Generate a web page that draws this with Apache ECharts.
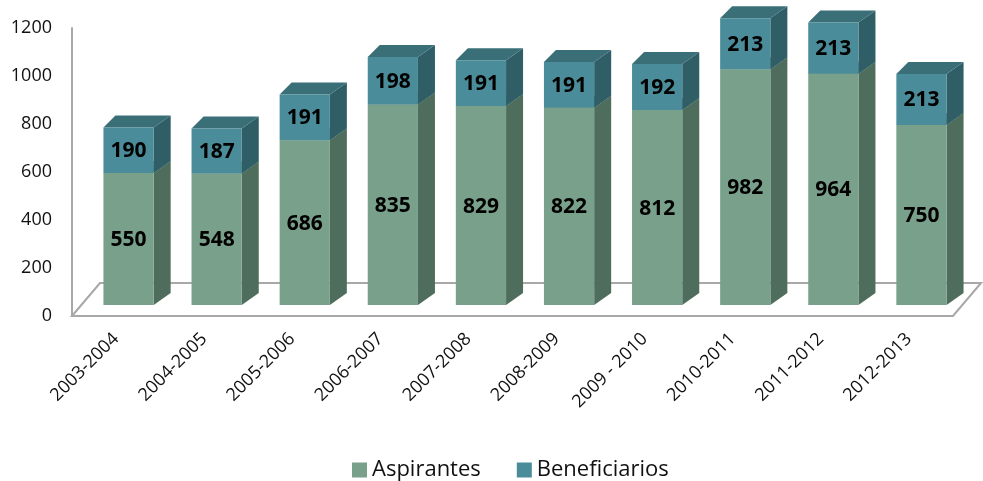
<!DOCTYPE html>
<html>
<head>
<meta charset="utf-8">
<script src="https://cdn.jsdelivr.net/npm/echarts@6/dist/echarts.min.js"></script>
<style>
html,body{margin:0;padding:0;background:#fff;}
#chart{width:983px;height:481px;}
</style>
</head>
<body>
<div id="chart"></div>
<script>
var categories = ['2003-2004','2004-2005','2005-2006','2006-2007','2007-2008','2008-2009','2009 - 2010','2010-2011','2011-2012','2012-2013'];
var aspirantes = [550, 548, 686, 835, 829, 822, 812, 982, 964, 750];
var beneficiarios = [190, 187, 191, 198, 191, 191, 192, 213, 213, 213];
var yTicks = [0, 200, 400, 600, 800, 1000, 1200];

var FONT = '"Open Sans", sans-serif';
var SX = 12.5, SY = -11;        // bar placement inside the floor depth
var DXL = 12, DXR = 17, DY = -12; // bar depth
var FDX = 28, FDY = -33;        // floor depth

var aspData = aspirantes.map(function (v, i) { return [i, 0, v, v]; });
var benData = beneficiarios.map(function (v, i) { return [i, aspirantes[i], aspirantes[i] + v, v]; });

function makeRender(front, top, side) {
  return function (params, api) {
    var idx = api.value(0);
    var p0 = api.coord([idx, api.value(1)]);
    var p1 = api.coord([idx, api.value(2)]);
    var bw = api.size([1, 0])[0] * 0.57;
    var xl = p0[0] - bw / 2 + SX, xr = p0[0] + bw / 2 + SX;
    var yb = p0[1] + SY, yt = p1[1] + SY;
    return {
      type: 'group',
      children: [
        { type: 'polygon', shape: { points: [[xr, yb], [xr + DXR, yb + DY], [xr + DXR, yt + DY], [xr, yt]] }, style: { fill: side } },
        { type: 'polygon', shape: { points: [[xl, yt], [xl + DXL, yt + DY], [xr + DXR, yt + DY], [xr, yt]] }, style: { fill: top } },
        { type: 'rect', shape: { x: xl, y: yt, width: xr - xl, height: yb - yt }, style: { fill: front } },
        { type: 'text', style: { text: String(api.value(3)), x: (xl + xr) / 2, y: (yt + yb) / 2 + 1, align: 'center', verticalAlign: 'middle', font: 'bold 21px ' + FONT, fill: '#000' } }
      ]
    };
  };
}

var chart = echarts.init(document.getElementById('chart'));
chart.setOption({
  animation: false,
  backgroundColor: '#fff',
  grid: { left: 72, right: 30, top: 28, bottom: 165 },
  legend: {
    data: ['Aspirantes', 'Beneficiarios'],
    top: 454,
    left: 347,
    icon: 'rect',
    itemWidth: 15,
    itemHeight: 15,
    itemGap: 36,
    textStyle: { fontFamily: FONT, fontSize: 22, color: '#111' }
  },
  xAxis: {
    type: 'category',
    data: categories,
    axisLine: { show: false },
    axisTick: { show: false },
    axisLabel: { interval: 0, rotate: 45, margin: 20, fontFamily: FONT, fontSize: 18, color: '#111' }
  },
  yAxis: {
    type: 'value',
    min: 0, max: 1200, interval: 200,
    splitLine: { show: false },
    axisLine: { show: true, lineStyle: { color: '#a8a8a8', width: 2 } },
    axisTick: { show: false },
    axisLabel: { margin: 20, fontFamily: FONT, fontSize: 18, color: '#111',
      formatter: function (v) { return yTicks.indexOf(v) >= 0 ? String(v) : ''; } }
  },
  series: [
    {
      type: 'custom', name: 'floor', silent: true, z: 1,
      data: [[0, 0]],
      renderItem: function (params, api) {
        var cs = params.coordSys;
        var x0 = cs.x, x1 = cs.x + cs.width, y0 = cs.y + cs.height;
        return {
          type: 'polygon',
          shape: { points: [[x0, y0], [x0 + FDX, y0 + FDY], [x1 + FDX, y0 + FDY], [x1, y0]] },
          style: { fill: '#ffffff', stroke: '#a8a8a8', lineWidth: 2 }
        };
      }
    },
    {
      type: 'custom', name: 'Aspirantes', z: 2,
      itemStyle: { color: '#79a08a' },
      encode: { x: 0, y: [1, 2] },
      data: aspData,
      renderItem: makeRender('#79a08a', '#5f8571', '#4f6d5d')
    },
    {
      type: 'custom', name: 'Beneficiarios', z: 3,
      itemStyle: { color: '#4a8c99' },
      encode: { x: 0, y: [1, 2] },
      data: benData,
      renderItem: makeRender('#4a8c99', '#3a6f78', '#2f5e67')
    }
  ]
});
</script>
</body>
</html>
